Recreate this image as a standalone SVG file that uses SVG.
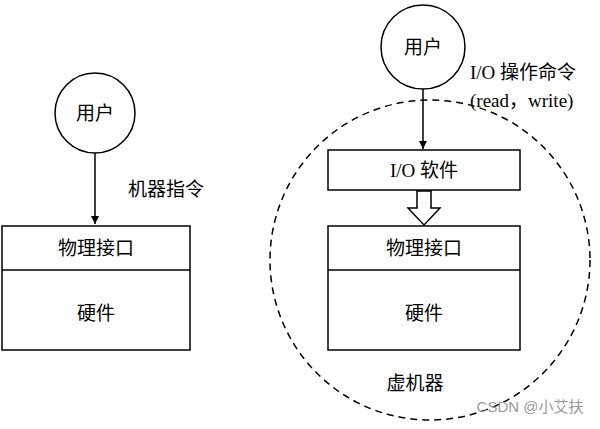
<svg xmlns="http://www.w3.org/2000/svg" width="600" height="429" viewBox="0 0 600 429">
<style>
.s{fill:#fff;stroke:#000;stroke-width:1.5}
.t{font-family:"Liberation Serif","Noto Sans CJK SC",serif;font-size:19px;fill:#000;text-anchor:middle;dominant-baseline:central}
.l{text-anchor:start}
</style>
<defs><marker id="a" viewBox="0 0 10 10" refX="10" refY="5" markerWidth="8" markerHeight="10" orient="auto" markerUnits="userSpaceOnUse"><path d="M0,0L10,5L0,10z" fill="#000"/></marker></defs>
<rect width="600" height="429" fill="#fff"/>
<g id="vm"><circle cx="430" cy="260" r="160" fill="none" stroke="#000" stroke-width="1.5" stroke-dasharray="7,5"/><text class="t" x="415" y="383">虚机器</text></g>
<g id="user1"><circle class="s" cx="95" cy="113" r="40"/><text class="t" x="95" y="113">用户</text></g>
<g id="hw1"><rect class="s" x="2" y="226" width="188" height="124"/><line x1="2" y1="270" x2="190" y2="270" stroke="#000" stroke-width="1.5"/><text class="t" x="96" y="248">物理接口</text><text class="t" x="96" y="313">硬件</text></g>
<g id="user2"><circle class="s" cx="423" cy="47" r="42"/><text class="t" x="423" y="47">用户</text></g>
<g id="io"><rect class="s" x="328" y="150" width="192" height="40"/><text class="t" x="424" y="170">I/O 软件</text></g>
<g id="hw2"><rect class="s" x="328" y="226" width="192" height="124"/><line x1="328" y1="270" x2="520" y2="270" stroke="#000" stroke-width="1.5"/><text class="t" x="424" y="248">物理接口</text><text class="t" x="424" y="313">硬件</text></g>
<g id="connectors">
<line x1="95" y1="153" x2="95" y2="224" stroke="#000" stroke-width="1.5" marker-end="url(#a)"/>
<line x1="423" y1="89" x2="423" y2="149" stroke="#000" stroke-width="1.5" marker-end="url(#a)"/>
<path d="M417,191V208H408L424,225L440,208H431V191Z" class="s"/>
</g>
<g id="labels">
<text class="t l" x="128" y="189">机器指令</text>
<text class="t l" x="470" y="72">I/O 操作命令</text>
<text class="t l" x="470" y="100">(read，write)</text>
<text x="530" y="412" font-family="Liberation Sans,Noto Sans CJK SC,sans-serif" font-size="15" fill="#999" text-anchor="middle">CSDN @小艾扶</text>
</g>
</svg>
